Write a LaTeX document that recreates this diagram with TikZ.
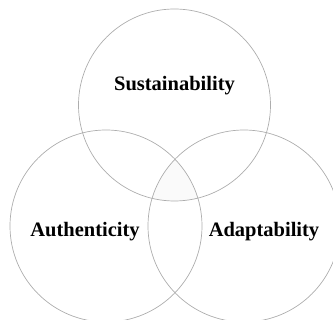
\documentclass[tikz,border=0pt]{standalone}
\usepackage{fontspec}
\setmainfont{Liberation Serif}

\begin{document}
\begin{tikzpicture}[x=1pt,y=1pt]
    \tikzstyle{set} = [draw=black!32, line width=0.7pt, circle, minimum size=192pt, inner sep=0pt]
    \tikzstyle{ann} = [draw=none, fill=none, font=\fontsize{20.5}{24}\selectfont\bfseries]

    \useasboundingbox (0,0) rectangle (333,-320);

    \coordinate (c1) at (174.5,-105);
    \coordinate (c2) at (106,-226);
    \coordinate (c3) at (244,-226);

    % faint shading where all three meet
    \begin{scope}
        \clip (c1) circle (96pt);
        \clip (c2) circle (96pt);
        \fill[black!2] (c3) circle (96pt);
    \end{scope}

    % the three sets
    \node[set] (sus) at (c1) {};
    \node[set] (aut) at (c2) {};
    \node[set] (ada) at (c3) {};

    \node[ann] (sustxt) at (174.5,-85.5) {Sustainability};
    \node[ann] (auttxt) at (85,-231.5) {Authenticity};
    \node[ann] (adatxt) at (264,-231.5) {Adaptability};

\end{tikzpicture}
\end{document}
